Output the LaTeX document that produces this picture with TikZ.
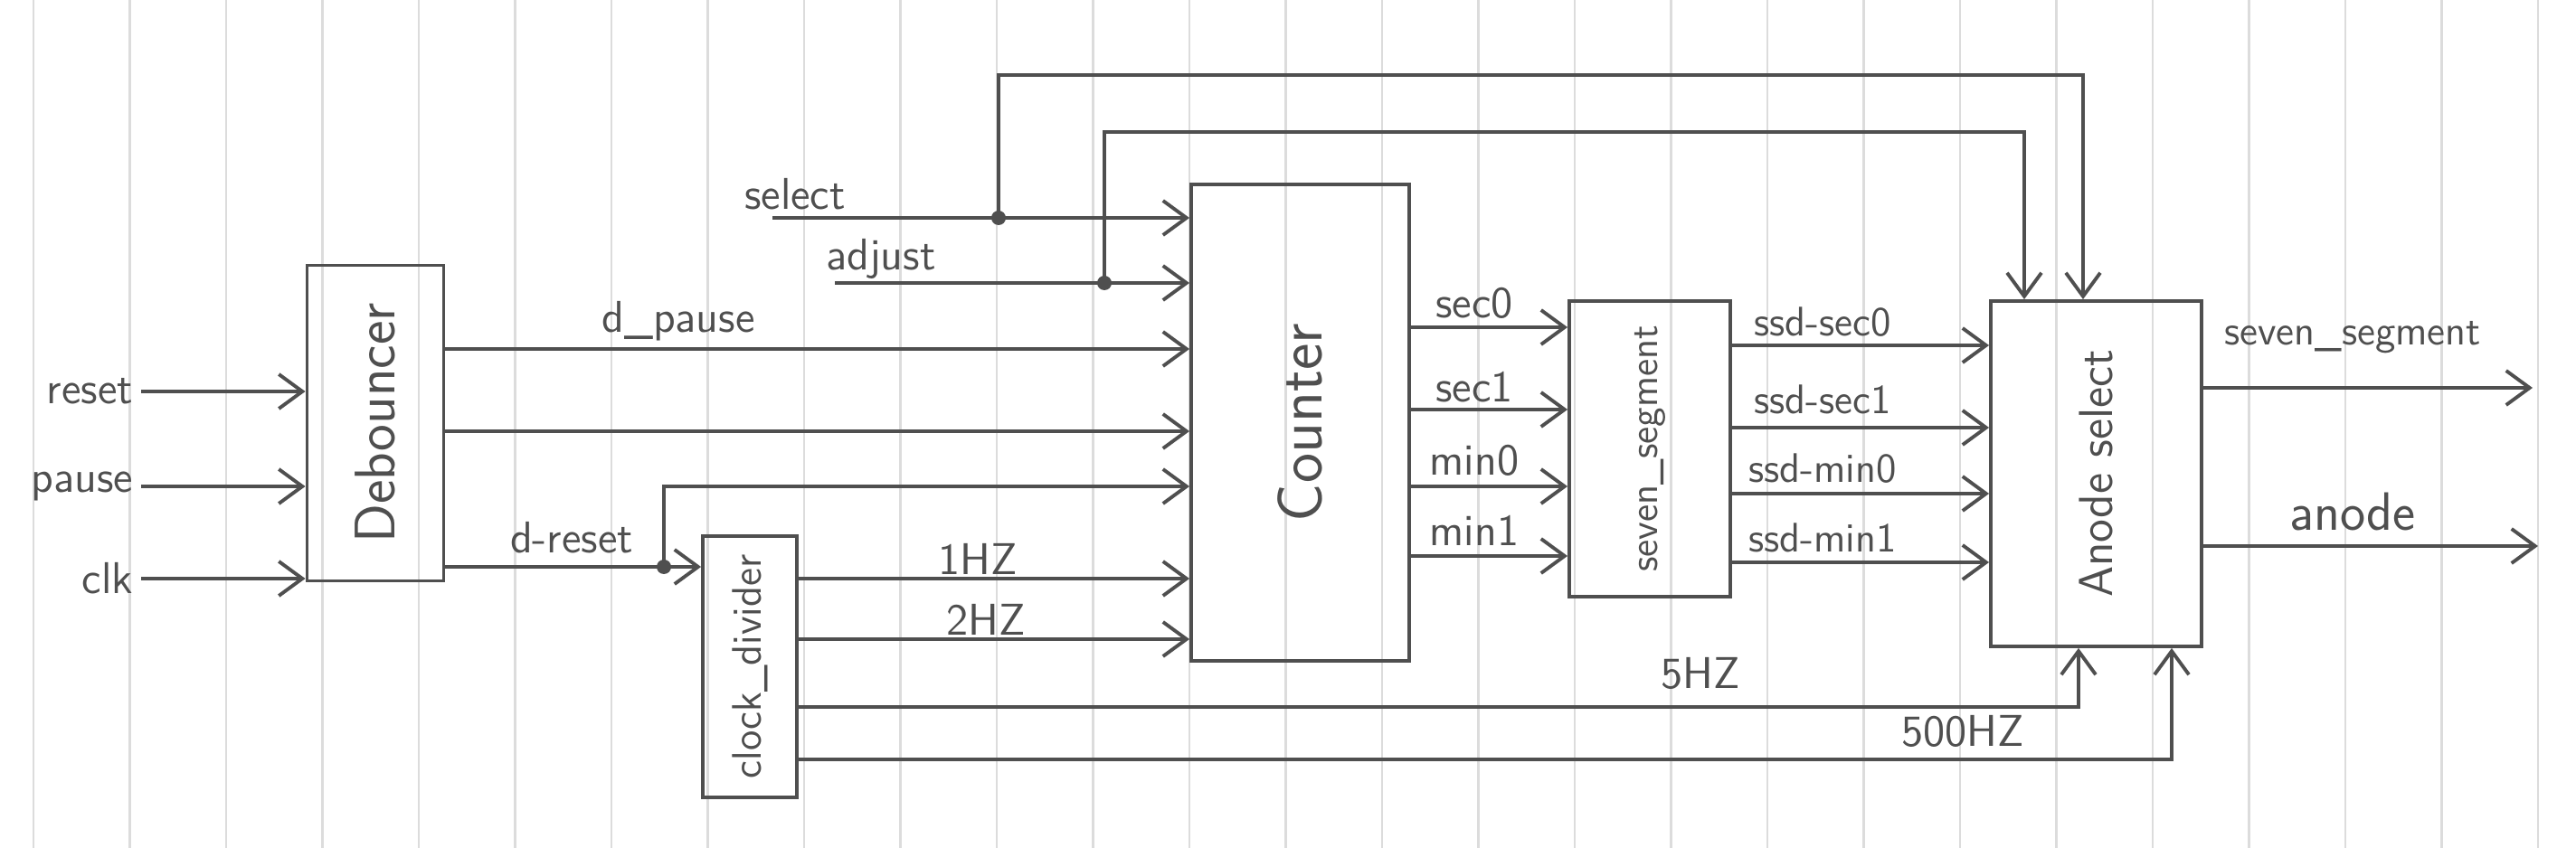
\documentclass[tikz,border=0pt]{standalone}
\usetikzlibrary{arrows.meta,positioning}
\definecolor{pencil}{HTML}{4F4F4F}
\definecolor{rule}{HTML}{DCDCDC}
\newcommand{\blktext}[2]{\rotatebox{90}{\fontsize{#1}{#1}\selectfont #2}}

\begin{document}
\begin{tikzpicture}[color=pencil,line width=1.1pt,
  font=\sffamily\fontsize{14}{16}\selectfont,
  blk/.style={draw,rectangle,inner sep=0pt},
  sig/.style={-{Straight Barb[length=2.6mm,width=3.8mm]}},
  jn/.style={circle,fill,inner sep=0pt,minimum size=1.6mm}]
\fill[white] (0,0) rectangle (28.48,9.38);
\useasboundingbox (0,0) rectangle (28.48,9.38);
% ruled paper
\foreach \i in {0,...,26} \draw[rule,line width=0.6pt] ({0.37+1.065*\i},0) -- ++(0,9.38);
% blocks
\node[blk,minimum width=1.51cm,minimum height=3.49cm] (deb) at (4.15,4.70) {\blktext{18}{Debouncer}};
\node[blk,minimum width=1.04cm,minimum height=2.89cm] (clkdiv) at (8.29,2.005) {\blktext{13}{clock\_divider}};
\node[blk,minimum width=2.41cm,minimum height=5.27cm] (ctr) at (14.375,4.705) {\blktext{20}{Counter}};
\node[blk,minimum width=1.78cm,minimum height=3.27cm] (sevseg) at (18.24,4.415) {\blktext{12.5}{seven\_segment}};
\node[blk,minimum width=2.33cm,minimum height=3.82cm] (anodesel) at (23.175,4.14) {\blktext{15}{Anode select}};
% inputs
\node[anchor=east,inner sep=2pt] (reset) at (1.56,5.05) {reset};
\node[anchor=east,inner sep=2pt] (pause) at (1.56,4.00) {pause};
\node[anchor=east,inner sep=2pt] (clk) at (1.56,2.98) {clk};
\draw[sig] (reset) -- (reset -| deb.west);
\draw[sig] (pause) -- (pause -| deb.west);
\draw[sig] (clk) -- (clk -| deb.west);
% debouncer outputs
\draw[sig] (deb.east |- 0,5.52) -- (ctr.west |- 0,5.52);
\node (dpause) at (7.50,5.83) {d\_pause};
\draw[sig] (deb.east |- 0,4.61) -- (ctr.west |- 0,4.61);
\draw[sig] (deb.east |- 0,3.11) -- (clkdiv.west |- 0,3.11);
\node (dreset) at (6.32,3.43) {d-reset};
\node[jn] (rj) at (7.34,3.11) {};
\draw[sig] (rj.center) |- (ctr.west |- 0,4.00);
% select / adjust
\coordinate (selin) at (8.54,6.97);
\coordinate (adjin) at (9.23,6.25);
\node (select) at (8.79,7.23) {select};
\node (adjust) at (9.74,6.52) {adjust};
\draw[sig] (selin) -- (ctr.west |- selin);
\draw[sig] (adjin) -- (ctr.west |- adjin);
\node[jn] (selj) at (11.04,6.97) {};
\node[jn] (adjj) at (12.21,6.25) {};
\draw[sig] (selj.center) -- ++(0,1.58) -| (anodesel.north -| 23.03,0);
\draw[sig] (adjj.center) -- ++(0,1.67) -| (anodesel.north -| 22.38,0);
% clock divider outputs
\draw[sig] (clkdiv.east |- 0,2.98) -- (ctr.west |- 0,2.98);
\node (onehz) at (10.81,3.20) {1HZ};
\draw[sig] (clkdiv.east |- 0,2.31) -- (ctr.west |- 0,2.31);
\node (twohz) at (10.90,2.53) {2HZ};
\draw[sig] (clkdiv.east |- 0,1.56) -| (anodesel.south -| 22.98,0);
\node (fivehz) at (18.80,1.93) {5HZ};
\draw[sig] (clkdiv.east |- 0,0.98) -| (anodesel.south -| 24.01,0);
\node (fivehundhz) at (21.70,1.29) {500HZ};
% counter outputs
\draw[sig] (ctr.east |- 0,5.76) -- (sevseg.west |- 0,5.76);
\node (sec0) at (16.30,6.03) {sec0};
\draw[sig] (ctr.east |- 0,4.85) -- (sevseg.west |- 0,4.85);
\node (sec1) at (16.30,5.10) {sec1};
\draw[sig] (ctr.east |- 0,4.00) -- (sevseg.west |- 0,4.00);
\node (min0) at (16.30,4.29) {min0};
\draw[sig] (ctr.east |- 0,3.23) -- (sevseg.west |- 0,3.23);
\node (min1) at (16.30,3.51) {min1};
% seven segment outputs
\draw[sig] (sevseg.east |- 0,5.56) -- (anodesel.west |- 0,5.56);
\node[font=\sffamily\fontsize{13}{15}\selectfont] (ssdsec0) at (20.15,5.82) {ssd-sec0};
\draw[sig] (sevseg.east |- 0,4.65) -- (anodesel.west |- 0,4.65);
\node[font=\sffamily\fontsize{13}{15}\selectfont] (ssdsec1) at (20.15,4.96) {ssd-sec1};
\draw[sig] (sevseg.east |- 0,3.92) -- (anodesel.west |- 0,3.92);
\node[font=\sffamily\fontsize{13}{15}\selectfont] (ssdmin0) at (20.15,4.20) {ssd-min0};
\draw[sig] (sevseg.east |- 0,3.16) -- (anodesel.west |- 0,3.16);
\node[font=\sffamily\fontsize{13}{15}\selectfont] (ssdmin1) at (20.15,3.43) {ssd-min1};
% outputs
\coordinate (segout) at (28.00,5.09);
\coordinate (anout) at (28.06,3.34);
\draw[sig] (anodesel.east |- segout) -- (segout);
\node[font=\sffamily\fontsize{13}{15}\selectfont] (segtxt) at (26.01,5.65) {seven\_segment};
\draw[sig] (anodesel.east |- anout) -- (anout);
\node[font=\sffamily\fontsize{17}{19}\selectfont] (antxt) at (26.01,3.72) {anode};
\end{tikzpicture}
\end{document}
